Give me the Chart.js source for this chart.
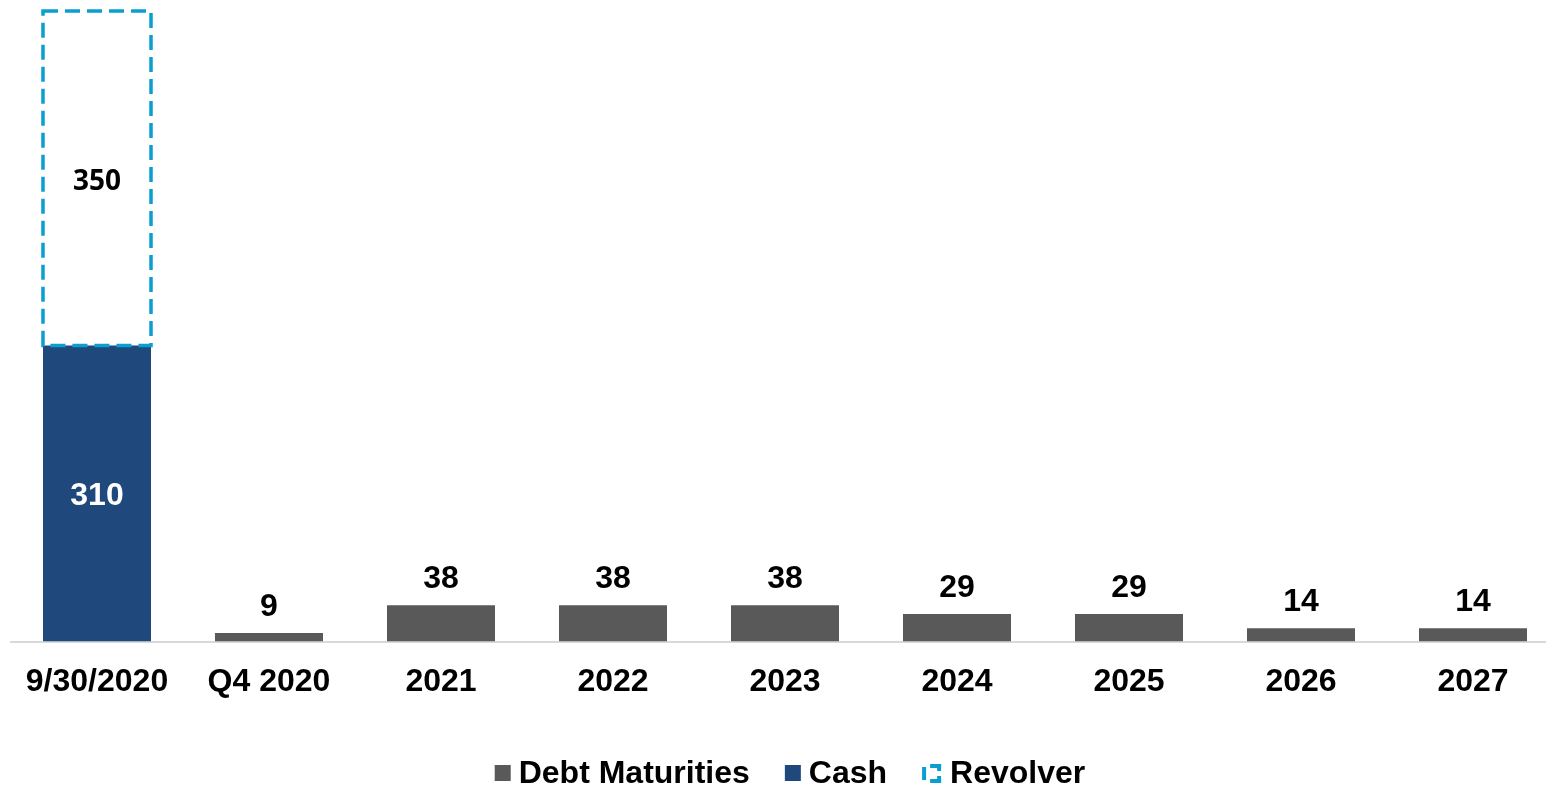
<!DOCTYPE html>
<html><head><meta charset="utf-8">
<script src="https://cdn.jsdelivr.net/npm/chart.js@4/dist/chart.umd.min.js"></script>
<style>html,body{margin:0;padding:0;background:#fff;overflow:hidden}#wrap{width:1546px;height:788px;overflow:hidden}</style>
</head><body><div id="wrap"><canvas id="c" width="1559" height="788"></canvas></div>
<script>
const categories = ['9/30/2020','Q4 2020','2021','2022','2023','2024','2025','2026','2027'];
const debtMaturities = [0, 9, 38, 38, 38, 29, 29, 14, 14];
const cash = [310, 0, 0, 0, 0, 0, 0, 0, 0];
const revolver = [350, 0, 0, 0, 0, 0, 0, 0, 0];
const seriesNames = ['Debt Maturities', 'Cash', 'Revolver'];

const COL_DEBT = '#595959', COL_CASH = '#1f497d', COL_REV = '#0a9fd0';
const FONT = '"Liberation Sans", Arial, sans-serif';

const revolverPlugin = {
  id: 'revolverDash',
  afterDatasetsDraw(chart) {
    const ctx = chart.ctx;
    const meta = chart.getDatasetMeta(2);
    meta.data.forEach((el, i) => {
      if (!revolver[i]) return;
      const p = el.getProps(['x','y','base','width'], true);
      const l = p.x - p.width/2, r = p.x + p.width/2, t = Math.min(p.y, p.base), b = Math.max(p.y, p.base);
      ctx.save();
      ctx.strokeStyle = COL_REV; ctx.lineWidth = 3.5; ctx.setLineDash([15, 7]);
      ctx.beginPath();
      ctx.rect(l, t, r - l, b - t);
      ctx.stroke();
      ctx.restore();
    });
  }
};

const labelPlugin = {
  id: 'valueLabels',
  afterDatasetsDraw(chart) {
    const ctx = chart.ctx;
    ctx.save();
    ctx.textAlign = 'center'; ctx.textBaseline = 'middle';
    chart.getDatasetMeta(0).data.forEach((el, i) => {
      if (!debtMaturities[i]) return;
      ctx.font = 'bold 32px ' + FONT; ctx.fillStyle = '#000';
      ctx.fillText(String(debtMaturities[i]), el.x, el.y - 26);
    });
    chart.getDatasetMeta(1).data.forEach((el, i) => {
      if (!cash[i]) return;
      ctx.font = 'bold 32px ' + FONT; ctx.fillStyle = '#fff';
      ctx.fillText(String(cash[i]), el.x, (el.y + el.base) / 2 + 3);
    });
    chart.getDatasetMeta(2).data.forEach((el, i) => {
      if (!revolver[i]) return;
      ctx.font = 'bold 28px "Open Sans", sans-serif'; ctx.fillStyle = '#000';
      ctx.fillText(String(revolver[i]), el.x, (el.y + el.base) / 2 + 4);
    });
    ctx.restore();
  }
};

const legendPlugin = {
  id: 'customLegend',
  afterDraw(chart) {
    const ctx = chart.ctx;
    ctx.save();
    ctx.font = 'bold 32px ' + FONT;
    ctx.textBaseline = 'middle';
    const boxes = [16, 16, 20], gapBoxText = 8, gapItems = 35;
    const widths = seriesNames.map((n, i) => boxes[i] + gapBoxText + ctx.measureText(n).width);
    const total = widths.reduce((a, b) => a + b, 0) + gapItems * (seriesNames.length - 1);
    const ca = chart.chartArea;
    let x = (ca.left + ca.right) / 2 - total / 2 + 5;
    const cy = 773;
    const cols = [COL_DEBT, COL_CASH, COL_REV];
    seriesNames.forEach((n, i) => {
      if (i < 2) {
        ctx.fillStyle = cols[i];
        ctx.fillRect(x, cy - 8, 16, 16);
      } else {
        const l = x, t = cy - 9, s = 19, w = 4;
        ctx.fillStyle = COL_REV;
        ctx.fillRect(l, t + 3, w, s - 6);
        ctx.fillRect(l + 8, t, s - 8, w);
        ctx.fillRect(l + 8, t + s - w, s - 8, w);
        ctx.fillRect(l + s - w, t, w, 7);
        ctx.fillRect(l + s - w, t + s - 7, w, 7);
      }
      ctx.fillStyle = '#000';
      ctx.fillText(n, x + boxes[i] + gapBoxText, cy + 1);
      x += widths[i] + gapItems;
    });
    ctx.restore();
  }
};

new Chart(document.getElementById('c'), {
  type: 'bar',
  data: {
    labels: categories,
    datasets: [
      { label: seriesNames[0], data: debtMaturities, backgroundColor: COL_DEBT, borderWidth: 0 },
      { label: seriesNames[1], data: cash, backgroundColor: COL_CASH, borderWidth: 0 },
      { label: seriesNames[2], data: revolver, backgroundColor: 'rgba(0,0,0,0)', borderWidth: 0 }
    ]
  },
  options: {
    responsive: false,
    animation: false,
    devicePixelRatio: 1,
    layout: { padding: { top: 11, left: 11, right: 0, bottom: 66 } },
    datasets: { bar: { categoryPercentage: 1, barPercentage: 0.628 } },
    plugins: { legend: { display: false }, tooltip: { enabled: false } },
    scales: {
      x: {
        stacked: true,
        grid: { display: false, drawTicks: false },
        border: { display: true, color: '#d9d9d9', width: 2 },
        ticks: { color: '#000', font: { family: FONT, size: 32, weight: 'bold' }, padding: 21, maxRotation: 0, autoSkip: false }
      },
      y: { stacked: true, display: false, min: 0, max: 660 }
    }
  },
  plugins: [revolverPlugin, labelPlugin, legendPlugin]
});
</script>
</body></html>
